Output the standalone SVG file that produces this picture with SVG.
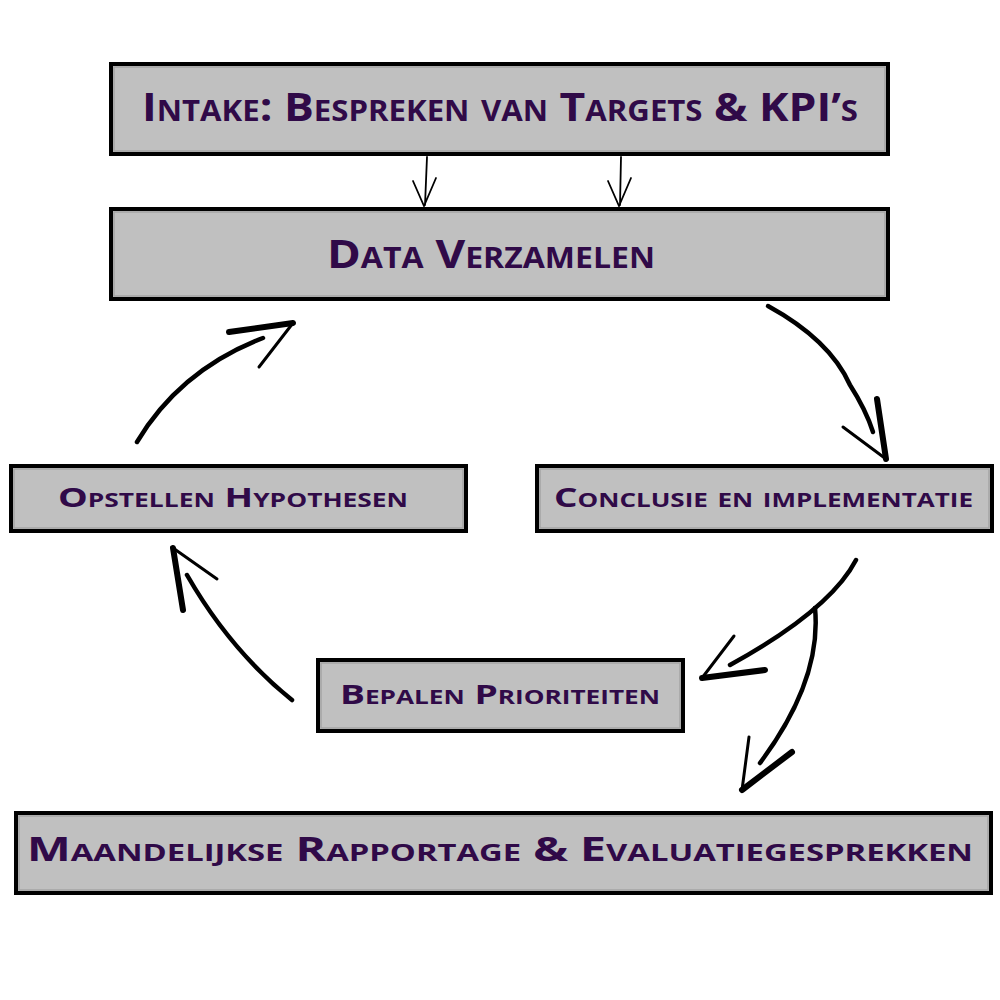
<svg xmlns="http://www.w3.org/2000/svg" width="1000" height="1000" viewBox="0 0 1000 1000">
<style>
.box{fill:#c0c0c0;stroke:#000;stroke-width:4}
.inner{fill:none;stroke:#a4a4a4;stroke-width:1.5}
.t{font-family:"Open Sans","Lato",sans-serif;font-weight:700;font-variant:small-caps;fill:#300a48}
.curve{fill:none;stroke:#000;stroke-width:4.5;stroke-linecap:round}
.thick{fill:none;stroke:#000;stroke-width:6;stroke-linecap:round}
.thin{fill:none;stroke:#000;stroke-width:3;stroke-linecap:round}
.hair{fill:none;stroke:#000;stroke-width:1.8;stroke-linecap:round}
</style>
<rect width="1000" height="1000" fill="#fff"/>
<g id="intake">
<rect class="box" x="111" y="64" width="777" height="90"/>
<rect class="inner" x="114" y="67" width="771" height="84"/>
<text class="t" x="142" y="121" font-size="40" textLength="716" lengthAdjust="spacingAndGlyphs">Intake: Bespreken van Targets &amp; KPI’s</text>
</g>
<g id="data">
<rect class="box" x="111" y="209" width="777" height="90"/>
<rect class="inner" x="114" y="212" width="771" height="84"/>
<text class="t" x="327" y="268" font-size="40" textLength="328" lengthAdjust="spacingAndGlyphs">Data Verzamelen</text>
</g>
<g id="opstellen">
<rect class="box" x="11" y="466" width="455" height="65"/>
<rect class="inner" x="14" y="469" width="449" height="59"/>
<text class="t" x="58" y="507" font-size="27" textLength="350" lengthAdjust="spacingAndGlyphs">Opstellen Hypothesen</text>
</g>
<g id="conclusie">
<rect class="box" x="537" y="466" width="455" height="65"/>
<rect class="inner" x="540" y="469" width="449" height="59"/>
<text class="t" x="554" y="507" font-size="27" textLength="419" lengthAdjust="spacingAndGlyphs">Conclusie en implementatie</text>
</g>
<g id="bepalen">
<rect class="box" x="318" y="660" width="365" height="71"/>
<rect class="inner" x="321" y="663" width="359" height="65"/>
<text class="t" x="340" y="704" font-size="27" textLength="320" lengthAdjust="spacingAndGlyphs">Bepalen Prioriteiten</text>
</g>
<g id="maandelijkse">
<rect class="box" x="16" y="813" width="975" height="80"/>
<rect class="inner" x="19" y="816" width="969" height="74"/>
<text class="t" x="27" y="861" font-size="34" textLength="946" lengthAdjust="spacingAndGlyphs">Maandelijkse Rapportage &amp; Evaluatiegesprekken</text>
</g>
<g id="connectors">
<path class="hair" d="M427,157 L425,205 M413,181 L424,206 L436,178"/>
<path class="hair" d="M621,157 L620,205 M608,181 L619,206 L631,178"/>
<path class="curve" d="M768,306 Q830,340 850,385 Q866,410 873,432"/>
<path class="thick" d="M877,399 L886,459"/>
<path class="thin" d="M843,427 L886,459"/>
<path class="curve" d="M137,442 Q180,370 263,338"/>
<path class="thick" d="M229,332 L293,323"/>
<path class="thin" d="M259,367 L293,323"/>
<path class="curve" d="M292,700 Q230,650 187,575"/>
<path class="thick" d="M183,610 L173,548"/>
<path class="thin" d="M217,579 L173,548"/>
<path class="curve" d="M856,560 Q830,610 730,665"/>
<path class="thick" d="M765,670 L702,678"/>
<path class="thin" d="M734,636 L702,678"/>
<path class="curve" d="M815,608 Q822,680 760,763"/>
<path class="thick" d="M792,752 L742,790"/>
<path class="thin" d="M749,737 L742,790"/>
</g>
</svg>
